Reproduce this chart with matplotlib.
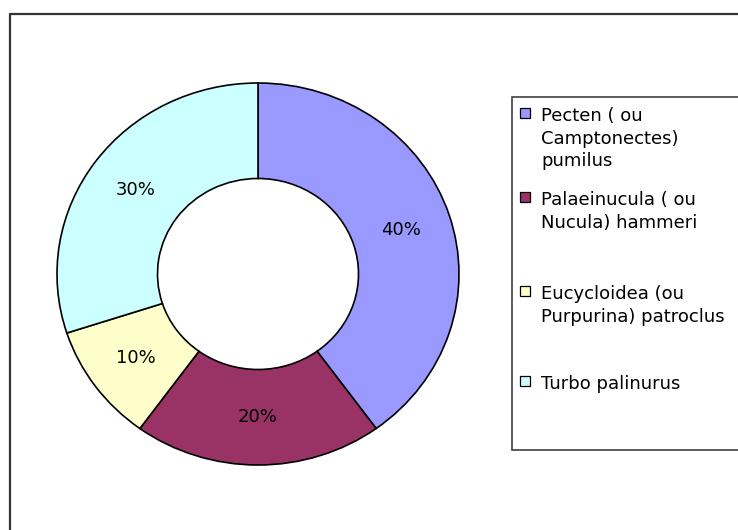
import matplotlib.pyplot as plt
from matplotlib.lines import Line2D
from matplotlib.patches import Rectangle

species = ['Pecten ( ou\nCamptonectes)\npumilus',
           'Palaeinucula ( ou\nNucula) hammeri',
           'Eucycloidea (ou\nPurpurina) patroclus',
           'Turbo palinurus']
shares = [40, 20, 10, 30]
colors = ['#9999FF', '#993366', '#FFFFCC', '#CCFFFF']

W, H = 738, 530
fig = plt.figure(figsize=(W / 100, H / 100), dpi=100)


def fx(x):
    return x / W


def fy(y):
    return 1 - y / H


# chart area border, cut off at right and bottom as in the source
fig.add_artist(Line2D([fx(9.5), fx(9.5), 1.0], [0.0, fy(13.5), fy(13.5)],
                      transform=fig.transFigure, color='#333333', lw=1.6))

# donut (slightly wider than tall, like the original)
ax = fig.add_axes([fx(57), fy(465), (459 - 57) / W, (465 - 83) / H])
ax.pie(shares, colors=colors, startangle=90, counterclock=False,
       autopct='%.0f%%', pctdistance=0.75,
       wedgeprops=dict(width=0.5, edgecolor='black', linewidth=1.2),
       textprops=dict(fontsize=13, color='black'))
ax.set_aspect('auto')
ax.set_xlim(-1, 1)
ax.set_ylim(-1, 1)
ax.axis('off')

# legend box
fig.add_artist(Rectangle((fx(512), fy(450)), fx(800) - fx(512), fy(97) - fy(450),
                         transform=fig.transFigure, facecolor='white',
                         edgecolor='#404040', lw=1.2))

entry_tops = [108, 192, 286, 376]
for label, color, top in zip(species, colors, entry_tops):
    fig.add_artist(Rectangle((fx(519.5), fy(top + 10)), 10 / W, 10 / H,
                             transform=fig.transFigure, facecolor=color,
                             edgecolor='black', lw=0.9))
    fig.text(fx(541), fy(top - 1), label, fontsize=13, va='top', ha='left',
             linespacing=1.33)

fig.savefig('out.png', dpi=100)
